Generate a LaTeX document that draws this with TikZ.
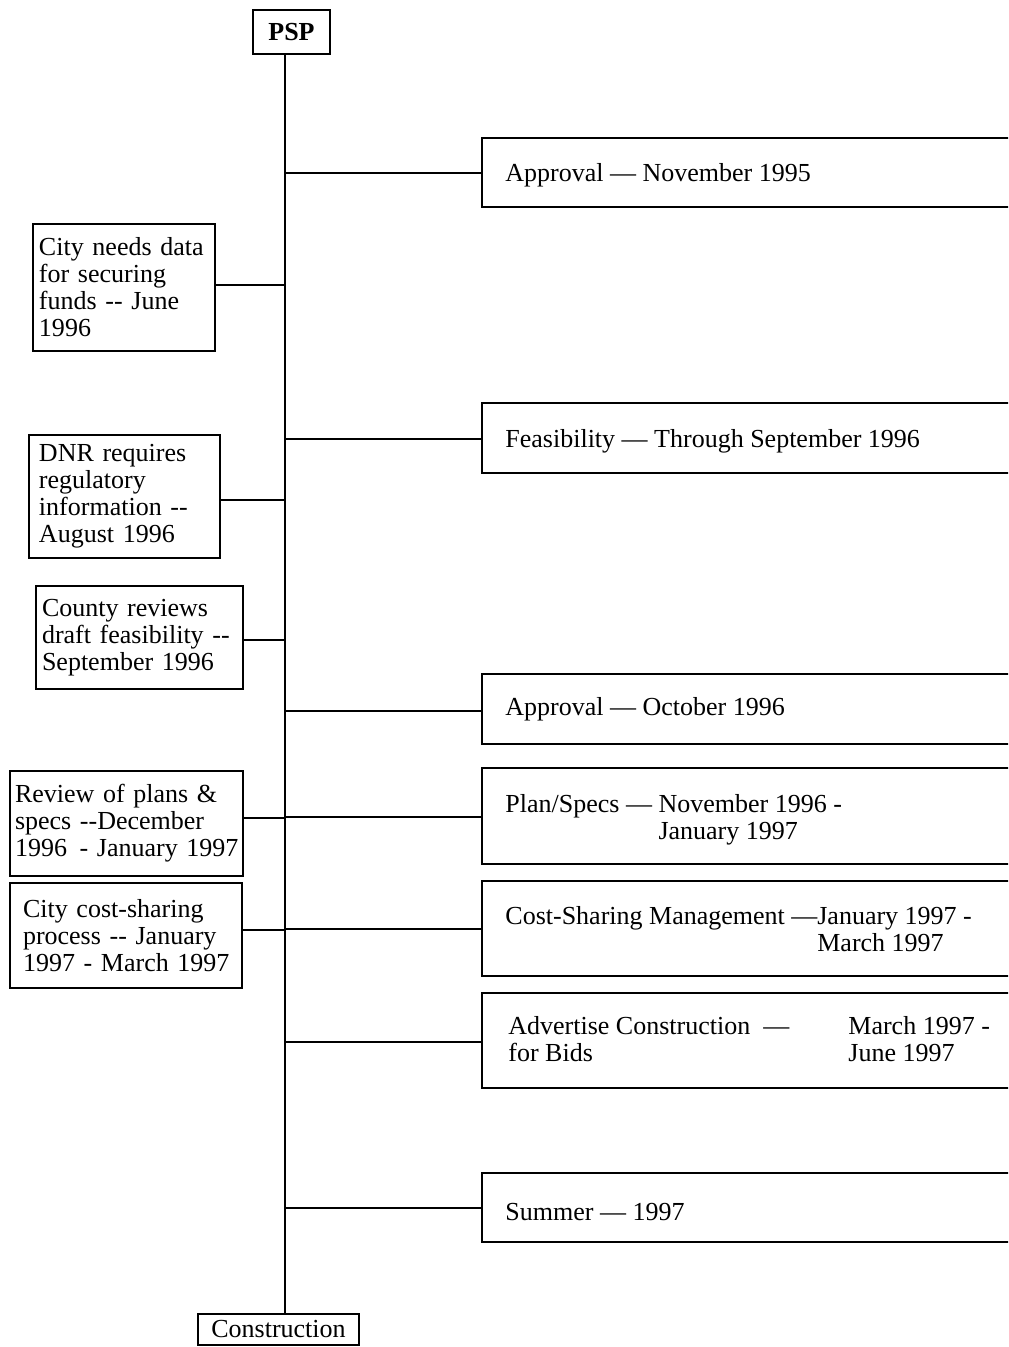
\documentclass[tikz,border=0pt]{standalone}
\usepackage{fontspec}
\setmainfont{Liberation Serif}
\begin{document}
\begin{tikzpicture}[x=0.5pt,y=-0.5pt,
  every node/.style={font=\fontsize{13}{13.5}\selectfont},
  link/.style={line width=1pt},
  endbox/.style={draw, line width=1pt, inner sep=0pt},
  lbox/.style={draw, line width=1pt, anchor=west, align=left, inner ysep=0pt},
  rbox/.style={draw, line width=1pt, anchor=west, minimum width=300pt, inner sep=0pt},
  rtext/.style={anchor=west, inner sep=0pt, align=left}]
\useasboundingbox (0,0) rectangle (1008,1347);
\clip (0,0) rectangle (1008,1347);

% end boxes
\node[endbox, minimum width=38.5pt, minimum height=22pt] (psp) at (291.5,32) {\bfseries PSP};
\node[endbox, minimum width=80.5pt, minimum height=15.5pt] (cons) at (278.5,1329.5) {Construction};
\coordinate (tx) at (285,0);
\draw[link] (psp.south -| tx) -- (cons.north -| tx);

% right boxes
\node[rbox, minimum height=34.5pt] (r1) at (481,172.5) {};
\node[rbox, minimum height=35pt] (r2) at (481,438) {};
\node[rbox, minimum height=35pt] (r3) at (481,709) {};
\node[rbox, minimum height=48pt] (r4) at (481,816) {};
\node[rbox, minimum height=47.5pt] (r5) at (481,928.5) {};
\node[rbox, minimum height=47.5pt] (r6) at (481,1040.5) {};
\node[rbox, minimum height=34.5pt] (r7) at (481,1207.5) {};

\node[rtext] (t1) at (505,175) {Approval — November 1995};
\node[rtext] (t2) at (505,441) {Feasibility — Through September 1996};
\node[rtext] (t3) at (505,709) {Approval — October 1996};
\node[rtext] (t4) at (505,820) {Plan/Specs — November 1996 -\\\phantom{Plan/Specs — }January 1997};
\node[rtext] (t5) at (505,932) {Cost-Sharing Management —January 1997 -\\\phantom{Cost-Sharing Management —}March 1997};
\node[rtext] (t6) at (508,1043) {\begin{tabular}{@{}p{170pt}@{}l@{}}Advertise Construction\ \ — & March 1997 -\\ for Bids & June 1997\end{tabular}};
\node[rtext] (t7) at (505,1212) {Summer — 1997};

\foreach \n/\y in {r1/173, r2/439, r3/711, r4/817, r5/929, r6/1042, r7/1208}{
  \coordinate (b\n) at (285,\y);
  \draw[link] (b\n) -- (b\n -| \n.west);
}

% left boxes
\node[lbox, minimum height=63.5pt, inner xsep=3pt, text width=85pt] (l1) at (32,287.5)
  {\mbox{City needs data}\\\mbox{for securing}\\\mbox{funds -{}- June}\\1996};
\node[lbox, minimum height=61.5pt, inner xsep=5pt, text width=85.5pt] (l2) at (28,496.5)
  {\mbox{DNR requires}\\regulatory\\\mbox{information -{}-}\\\mbox{August 1996}};
\node[lbox, minimum height=51.5pt, inner xsep=3pt, text width=97.5pt] (l3) at (35,637.5)
  {\mbox{County reviews}\\\mbox{draft feasibility -{}-}\\\mbox{September 1996}};
\node[lbox, minimum height=52.5pt, inner xsep=2.5pt, text width=111.5pt] (l4) at (9,823.5)
  {\mbox{Review of plans \&}\\\mbox{specs -{}-December}\\\mbox{1996\kern2pt{} - January 1997}};
\node[lbox, minimum height=52.5pt, inner xsep=6.5pt, text width=103pt] (l5) at (9,935.5)
  {\mbox{City cost-sharing}\\\mbox{process -{}- January}\\\mbox{1997 - March 1997}};

\foreach \n/\y in {l1/285, l2/500, l3/640, l4/818, l5/930}{
  \coordinate (b\n) at (285,\y);
  \draw[link] (b\n) -- (b\n -| \n.east);
}
\end{tikzpicture}
\end{document}
